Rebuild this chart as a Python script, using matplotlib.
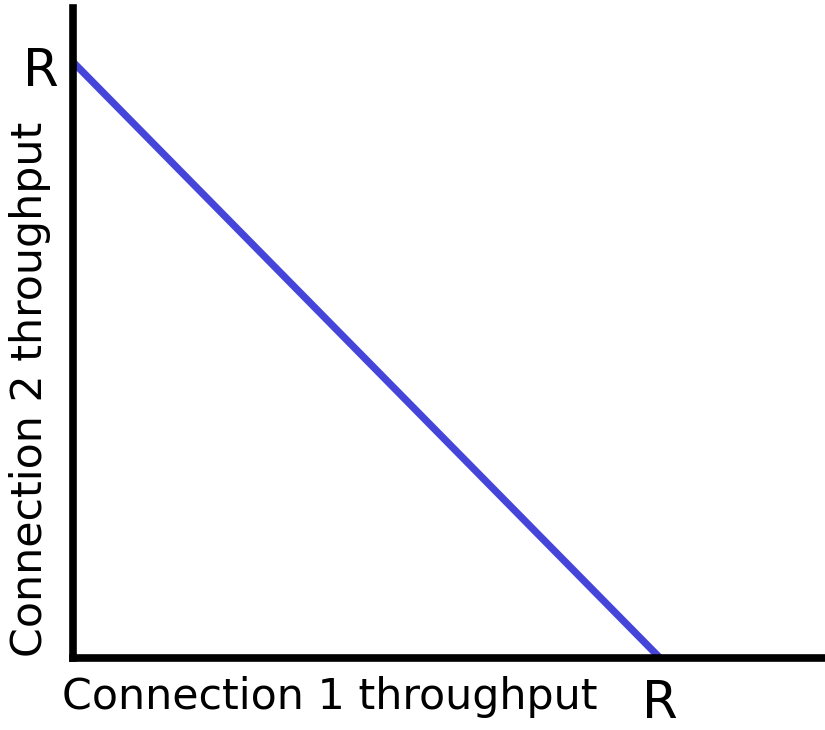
import matplotlib.pyplot as plt

# capacity line: connection 1 throughput vs connection 2 throughput
x_vals = [0, 1]
y_vals = [1, 0]
x_label = 'Connection 1 throughput'
y_label = 'Connection 2 throughput'
cap_label = 'R'

W, H = 825, 730
fig = plt.figure(figsize=(W / 100, H / 100), dpi=100)

# axes box in pixels: left spine at x=73, bottom spine at y=658, top at 8
left, bottom_px, top_px, right_px = 73, 658, 8, 825
ax = fig.add_axes([left / W, (H - bottom_px) / H,
                   (right_px - left) / W, (bottom_px - top_px) / H])

ax.plot(x_vals, y_vals, color='#4545da', lw=5.2, solid_capstyle='butt',
        clip_on=False, zorder=1)

ax.set_xlim(0, (right_px - left) / (660 - left))
ax.set_ylim(0, (bottom_px - top_px) / (bottom_px - 62))

for s in ['top', 'right']:
    ax.spines[s].set_visible(False)
for s in ['left', 'bottom']:
    ax.spines[s].set_linewidth(5.5)
    ax.spines[s].set_color('black')
    ax.spines[s].set_zorder(3)
ax.set_xticks([])
ax.set_yticks([])

fs = 30.8
fig.text(330 / W, 1 - 697 / H, x_label, fontsize=fs, ha='center', va='center')
fig.text(30 / W, 1 - 389 / H, y_label, fontsize=fs, ha='center', va='center',
         rotation=90)
fig.text(41 / W, 1 - 72 / H, cap_label, fontsize=37, ha='center', va='center')
fig.text(660 / W, 1 - 718 / H, cap_label, fontsize=37, ha='center',
         va='baseline')

fig.savefig('out.png', dpi=100)
